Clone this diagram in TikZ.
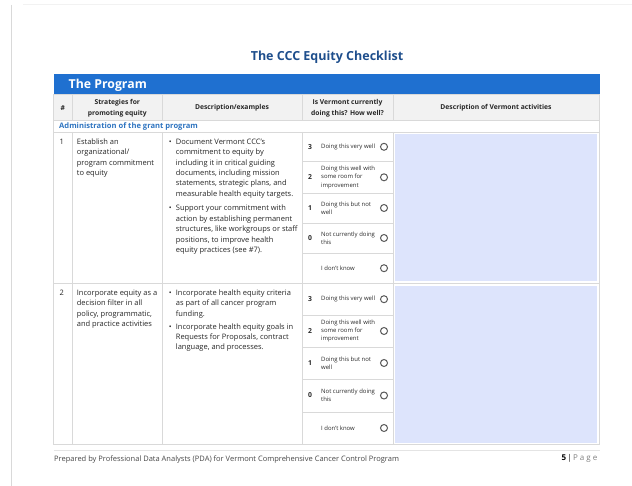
\documentclass[tikz,border=0pt]{standalone}
\usepackage{fontspec}
\setmainfont{Open Sans}
\definecolor{barblue}{HTML}{1F70D0}
\definecolor{titleblue}{HTML}{1E4E8C}
\definecolor{secblue}{HTML}{2E74C0}
\definecolor{lightfill}{HTML}{DDE4FC}
\definecolor{gridgray}{HTML}{D9D9D9}
\definecolor{headfill}{HTML}{F2F2F2}
\definecolor{txt}{HTML}{262626}
\definecolor{radiogray}{HTML}{595959}
\tikzset{
  grid/.style={draw=gridgray, line width=0.8pt},
  celltext/.style={anchor=north west, inner sep=0pt, align=left, text=txt, font=\fontsize{7.5}{10.4}\selectfont},
  headtext/.style={inner sep=0pt, align=center, text=txt, font=\bfseries\fontsize{6.75}{11.5}\selectfont},
  numtext/.style={inner sep=0pt, text=txt, font=\bfseries\fontsize{6.8}{8}\selectfont},
  rlabel/.style={anchor=west, inner sep=0pt, align=left, text=txt, font=\fontsize{5.95}{8.3}\selectfont},
  radio/.style={circle, draw=radiogray, line width=1pt, fill=white, minimum size=7pt, inner sep=0pt},
}
\newcommand\rateitem[4]{%
  \node[numtext] (#1n) at (310,#2) {#3};
  \node[rlabel] (#1t) at (321,#2) {#4};
  \node[radio] (#1c) at (384,#2) {};
}
\newcommand\bul{\makebox[0pt][r]{\textbullet\hspace{4.2pt}}}
\begin{document}
\begin{tikzpicture}[x=1pt,y=-1pt]
\useasboundingbox (0,0) rectangle (632,486);
% page edges
\draw[draw=gridgray, line width=1pt] (11.5,5) -- (11.5,486);
\draw[draw=headfill, line width=0.6pt] (23,4) -- (632,4);
% title
\node[inner sep=0pt, text=titleblue, font=\bfseries\fontsize{12.5}{15}\selectfont] (title) at (327,57) {The CCC Equity Checklist};
% blue bar
\fill[barblue] (53.5,74.5) rectangle (600,94);
\node[anchor=west, inner sep=0pt, text=white, font=\bfseries\fontsize{12.3}{16}\selectfont] (prog) at (68.5,85) {The Program};
% header row
\fill[headfill] (53.5,94) rectangle (599.5,120);
% light fills
\fill[lightfill] (395,134) rectangle (597,281.3);
\fill[lightfill] (395,286) rectangle (597,442.5);
% grid
\draw[grid] (53.5,94) rectangle (599.5,444.5);
\draw[grid] (53.5,120) -- (599.5,120);
\draw[grid] (53.5,132) -- (599.5,132);
\draw[grid] (53.5,283.3) -- (599.5,283.3);
\draw[grid] (72.3,94) -- (72.3,120);
\draw[grid] (162.3,94) -- (162.3,120);
\draw[grid] (302,94) -- (302,120);
\draw[grid] (393,94) -- (393,120);
\foreach \xx in {72.3,162.3,302,393} {\draw[grid] (\xx,132) -- (\xx,444.5);}
\foreach \yy in {161.7,193,223,253,315,347,379,412} {\draw[grid] (302,\yy) -- (393,\yy);}
% header texts
\node[headtext] (h1) at (62.9,108) {\#};
\node[headtext] (h2) at (117.3,108) {Strategies for\\promoting equity};
\node[headtext] (h3) at (232,108) {Description/examples};
\node[headtext] (h4) at (347.5,108) {Is Vermont currently\\doing this? How well?};
\node[headtext] (h5) at (496,108) {Description of Vermont activities};
% section row
\node[anchor=west, inner sep=0pt, text=secblue, font=\bfseries\fontsize{7.6}{9}\selectfont] (sec) at (59,126.3) {Administration of the grant program};
% row 1
\node[celltext] (n1) at (59.5,138.7) {1};
\node[celltext] (s1) at (76.7,138.7) {Establish an\\organizational/\\program commitment\\to equity};
\node[celltext] (d11) at (175.7,138.7) {\bul Document Vermont CCC's\\commitment to equity by\\including it in critical guiding\\documents, including mission\\statements, strategic plans, and\\measurable health equity targets.};
\node[celltext] (d12) at (175.7,205) {\bul Support your commitment with\\action by establishing permanent\\structures, like workgroups or staff\\positions, to improve health\\equity practices (see \#7).};
\rateitem{ra3}{146.8}{3}{Doing this very well}
\rateitem{ra2}{177.3}{2}{Doing this well with\\some room for\\improvement}
\rateitem{ra1}{208}{1}{Doing this but not\\well}
\rateitem{ra0}{238}{0}{Not currently doing\\this}
\rateitem{rax}{268.2}{}{I don't know}
% row 2
\node[celltext] (n2) at (59.5,289.5) {2};
\node[celltext] (s2) at (76.7,289.5) {Incorporate equity as a\\decision filter in all\\policy, programmatic,\\and practice activities};
\node[celltext] (d21) at (175.7,289.5) {\bul Incorporate health equity criteria\\as part of all cancer program\\funding.};
\node[celltext] (d22) at (175.7,323.3) {\bul Incorporate health equity goals in\\Requests for Proposals, contract\\language, and processes.};
\rateitem{rb3}{299.2}{3}{Doing this very well}
\rateitem{rb2}{331}{2}{Doing this well with\\some room for\\improvement}
\rateitem{rb1}{363}{1}{Doing this but not\\well}
\rateitem{rb0}{395.5}{0}{Not currently doing\\this}
\rateitem{rbx}{428}{}{I don't know}
% footer
\draw[draw=gridgray!70, line width=1.4pt] (53.5,450.7) -- (599.5,450.7);
\node[anchor=west, inner sep=0pt, text=txt!85, font=\fontsize{7.5}{8}\selectfont] (foot) at (54,459.5) {Prepared by Professional Data Analysts (PDA) for Vermont Comprehensive Cancer Control Program};
\node[anchor=east, inner sep=0pt, font=\fontsize{8}{9}\selectfont] (page) at (597.5,458.3) {\textbf{5}\,{\color{txt!70}\textbf{|}}\,{\color{gray}\addfontfeature{LetterSpace=25}Page}};
\end{tikzpicture}
\end{document}
